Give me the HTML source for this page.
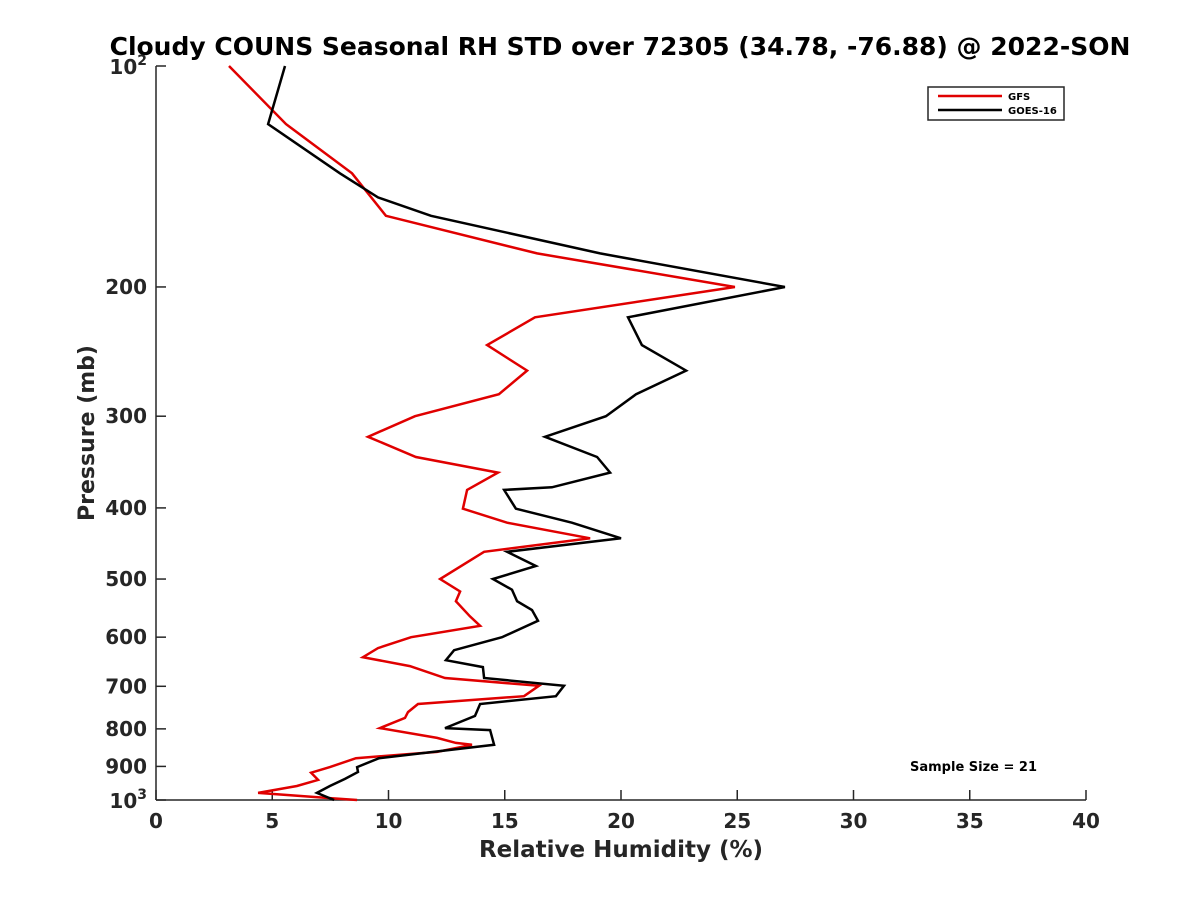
<!DOCTYPE html>
<html><head><meta charset="utf-8"><style>
body{margin:0;background:#fff;}
svg text{font-family:"DejaVu Sans","Liberation Sans",sans-serif;font-weight:bold;fill:#262626;}
</style></head><body>
<svg id="chart" width="1200" height="900" xmlns="http://www.w3.org/2000/svg">
<rect width="1200" height="900" fill="#fff"/>
<text x="620" y="55" text-anchor="middle" font-size="25" style="fill:#000">Cloudy COUNS Seasonal RH STD over 72305 (34.78, -76.88) @ 2022-SON</text>
<g id="axes"></g>
<g id="series"></g>
<text x="621" y="857" text-anchor="middle" font-size="23">Relative Humidity (%)</text>
<text transform="translate(94,433) rotate(-90)" text-anchor="middle" font-size="22">Pressure (mb)</text>
<g>
<rect x="928" y="87" width="136" height="33" fill="#fff" stroke="#262626" stroke-width="1.5"/>
<line x1="938" y1="96" x2="1002" y2="96" stroke="#e00000" stroke-width="2.5"/>
<text x="1008" y="100" font-size="10" style="fill:#000">GFS</text>
<line x1="938" y1="110" x2="1002" y2="110" stroke="#000" stroke-width="2.5"/>
<text x="1008" y="114" font-size="10" style="fill:#000">GOES-16</text>
</g>
<text x="910" y="771" font-size="13" style="fill:#000">Sample Size = 21</text>
</svg>
<script>
const xTicks=[0,5,10,15,20,25,30,35,40];
const yTicks=[100,200,300,400,500,600,700,800,900,1000];
const yTickLabels=["10^2","200","300","400","500","600","700","800","900","10^3"];
const gfsPressure=[100,120,140,160,180,200,220,240,260,280,300,320,341,358,378,401,419,440,459,500,520,536,562,579,600,621,639,657,682,699,722,740,759,773,798,823,836,841,860,877,902,918,939,957,978,994,1000];
const gfsRH=[3.14,5.59,8.43,9.89,16.39,24.9,16.3,14.24,15.96,14.75,11.14,9.12,11.18,14.71,13.38,13.2,15.1,18.67,14.11,12.22,13.08,12.9,13.5,13.94,10.97,9.55,8.9,10.92,12.43,16.47,15.83,11.27,10.84,10.71,9.63,12.09,12.9,13.59,12.09,8.6,7.48,6.67,6.97,6.06,4.39,7.48,8.65];
const goesPressure=[100,120,140,151,160,180,200,220,240,260,280,300,320,341,358,375,378,401,419,440,459,480,500,517,536,551,570,600,625,645,659,682,699,722,740,768,798,803,841,877,902,916,936,957,978,1000];
const goesRH=[5.55,4.82,7.91,9.55,11.83,19.1,27.05,20.3,20.9,22.8,20.65,19.35,16.73,18.97,19.53,17.03,14.97,15.48,17.89,20.0,15.1,16.34,14.49,15.31,15.53,16.17,16.43,14.88,12.82,12.47,14.06,14.11,17.55,17.2,13.94,13.72,12.43,14.37,14.54,9.59,8.65,8.69,8.13,7.48,6.92,7.66];
const X0=156,X1=1086,Y0=66,Y1=800;
function xs(v){return X0+(v-0)/(40-0)*(X1-X0);}
function ys(p){return Y0+(Math.log10(p)-2)*(Y1-Y0);}
const NS="http://www.w3.org/2000/svg";
const axes=document.getElementById('axes');
function mk(tag,attrs,parent){const e=document.createElementNS(NS,tag);for(const k in attrs)e.setAttribute(k,attrs[k]);parent.appendChild(e);return e;}
let l=mk('line',{x1:X0,y1:Y0,x2:X0,y2:Y1,stroke:'#262626','stroke-width':1.5},axes);


l=mk('line',{x1:X0,y1:Y1,x2:X1,y2:Y1,stroke:'#262626','stroke-width':1.5},axes);


xTicks.forEach(v=>{
 const x=xs(v);
 const t=mk('line',{x1:x,y1:Y1,x2:x,y2:Y1-10,stroke:'#262626','stroke-width':1.5},axes);
 
 
 const tx=mk('text',{x:x,y:Y1+28,'text-anchor':'middle','font-size':20},axes);
 tx.textContent=String(v);
 
 
});
yTicks.forEach((p,i)=>{
 const y=ys(p);
 const t=mk('line',{x1:X0,y1:y,x2:X0+10,y2:y,stroke:'#262626','stroke-width':1.5},axes);
 
 
 const lab=yTickLabels[i];
 if(lab.indexOf('^')>=0){
  const parts=lab.split('^');
  const tx=mk('text',{x:X0-9,y:y+8,'text-anchor':'end','font-size':20},axes);
  
  
  const a=mk('tspan',{},tx);a.textContent=parts[0];
  const b=mk('tspan',{'font-size':14,dy:-9},tx);b.textContent=parts[1];
 } else {
  const tx=mk('text',{x:X0-9,y:y+7,'text-anchor':'end','font-size':20},axes);
  tx.textContent=lab;
  
  
 }
});
const series=document.getElementById('series');
function drawLine(P,V,color,name){
 const pts=P.map((p,i)=>xs(V[i]).toFixed(1)+','+ys(p).toFixed(1)).join(' ');
 const pl=mk('polyline',{points:pts,fill:'none',stroke:color,'stroke-width':2.5,'stroke-linejoin':'miter'},series);
 
 
}
drawLine(gfsPressure,gfsRH,'#e00000','gfs-line');
drawLine(goesPressure,goesRH,'#000000','goes16-line');
</script>
</body></html>
